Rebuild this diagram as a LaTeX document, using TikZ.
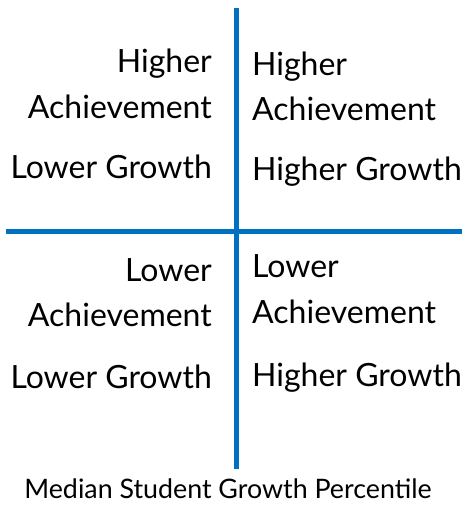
\documentclass[tikz,border=0pt]{standalone}
\usepackage{fontspec}
\setmainfont{Lato}
\definecolor{axisblue}{HTML}{0070C0}
\tikzset{
  qtext/.style={inner sep=0pt,font=\fontsize{32}{38}\selectfont},
  axis/.style={draw=axisblue,line width=5pt}
}
\begin{document}
\begin{tikzpicture}[x=1pt,y=-1pt]
\useasboundingbox (0,0) rectangle (465,506);
\def\VX{236}
\def\HY{231}
\def\LX{212}
\def\RX{252}
% axes
\draw[axis]
  (\VX,8) -- (\VX,469)
  (6,\HY) -- (462,\HY);
% upper left
\node[qtext,anchor=base east] (ulA) at (\LX,72) {Higher};
\node[qtext,anchor=base east] (ulB) at (\LX,118) {Achievement};
\node[qtext,anchor=base east] (ulC) at (\LX,178) {Lower Growth};
% upper right
\node[qtext,anchor=base west] (urA) at (\RX,75) {Higher};
\node[qtext,anchor=base west] (urB) at (\RX,120) {Achievement};
\node[qtext,anchor=base west] (urC) at (\RX,180) {Higher Growth};
% lower left
\node[qtext,anchor=base east] (llA) at (\LX,281) {Lower};
\node[qtext,anchor=base east] (llB) at (\LX,326) {Achievement};
\node[qtext,anchor=base east] (llC) at (\LX,388) {Lower Growth};
% lower right
\node[qtext,anchor=base west] (lrA) at (\RX,277) {Lower};
\node[qtext,anchor=base west] (lrB) at (\RX,323) {Achievement};
\node[qtext,anchor=base west] (lrC) at (\RX,386) {Higher Growth};
% caption
\node[inner sep=0pt,anchor=base,font=\fontsize{26.8}{31}\selectfont] (cap) at (228,498)
  {Median Student Growth Percentile};
\end{tikzpicture}
\end{document}
